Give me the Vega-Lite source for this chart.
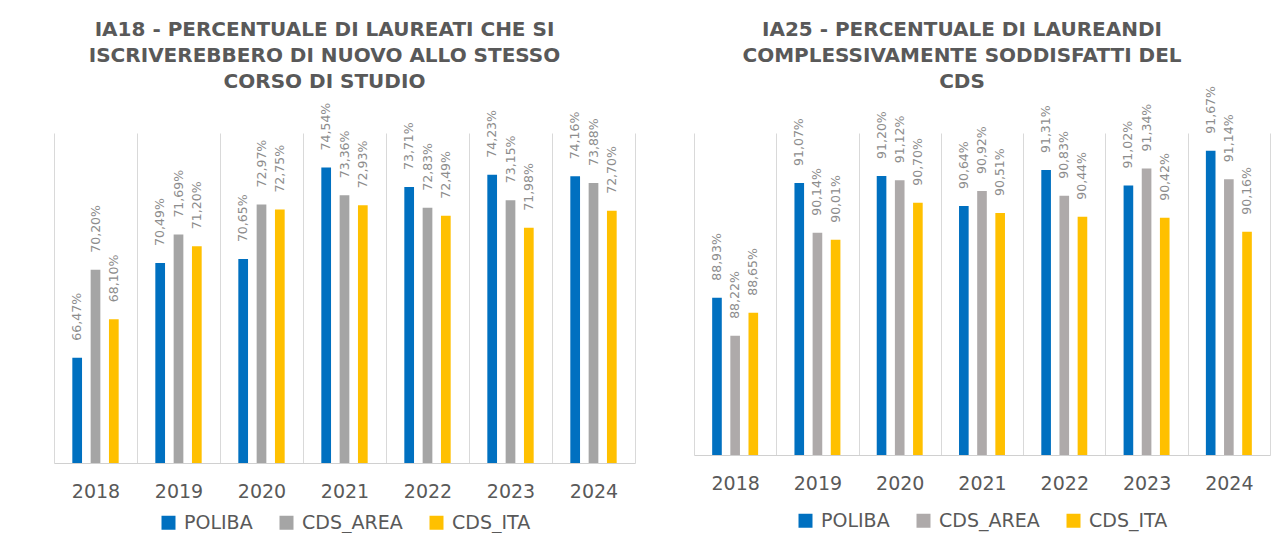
{
  "$schema": "https://vega.github.io/schema/vega-lite/v6.json",
  "background": "white",
  "padding": {"left": 54, "right": 4, "top": 19, "bottom": 0},
  "datasets": {
    "ia18": [
      {"anno": "2018", "serie": "POLIBA", "valore": 0.6647},
      {"anno": "2018", "serie": "CDS_AREA", "valore": 0.7020},
      {"anno": "2018", "serie": "CDS_ITA", "valore": 0.6810},
      {"anno": "2019", "serie": "POLIBA", "valore": 0.7049},
      {"anno": "2019", "serie": "CDS_AREA", "valore": 0.7169},
      {"anno": "2019", "serie": "CDS_ITA", "valore": 0.7120},
      {"anno": "2020", "serie": "POLIBA", "valore": 0.7065},
      {"anno": "2020", "serie": "CDS_AREA", "valore": 0.7297},
      {"anno": "2020", "serie": "CDS_ITA", "valore": 0.7275},
      {"anno": "2021", "serie": "POLIBA", "valore": 0.7454},
      {"anno": "2021", "serie": "CDS_AREA", "valore": 0.7336},
      {"anno": "2021", "serie": "CDS_ITA", "valore": 0.7293},
      {"anno": "2022", "serie": "POLIBA", "valore": 0.7371},
      {"anno": "2022", "serie": "CDS_AREA", "valore": 0.7283},
      {"anno": "2022", "serie": "CDS_ITA", "valore": 0.7249},
      {"anno": "2023", "serie": "POLIBA", "valore": 0.7423},
      {"anno": "2023", "serie": "CDS_AREA", "valore": 0.7315},
      {"anno": "2023", "serie": "CDS_ITA", "valore": 0.7198},
      {"anno": "2024", "serie": "POLIBA", "valore": 0.7416},
      {"anno": "2024", "serie": "CDS_AREA", "valore": 0.7388},
      {"anno": "2024", "serie": "CDS_ITA", "valore": 0.7270}
    ],
    "ia25": [
      {"anno": "2018", "serie": "POLIBA", "valore": 0.8893},
      {"anno": "2018", "serie": "CDS_AREA", "valore": 0.8822},
      {"anno": "2018", "serie": "CDS_ITA", "valore": 0.8865},
      {"anno": "2019", "serie": "POLIBA", "valore": 0.9107},
      {"anno": "2019", "serie": "CDS_AREA", "valore": 0.9014},
      {"anno": "2019", "serie": "CDS_ITA", "valore": 0.9001},
      {"anno": "2020", "serie": "POLIBA", "valore": 0.9120},
      {"anno": "2020", "serie": "CDS_AREA", "valore": 0.9112},
      {"anno": "2020", "serie": "CDS_ITA", "valore": 0.9070},
      {"anno": "2021", "serie": "POLIBA", "valore": 0.9064},
      {"anno": "2021", "serie": "CDS_AREA", "valore": 0.9092},
      {"anno": "2021", "serie": "CDS_ITA", "valore": 0.9051},
      {"anno": "2022", "serie": "POLIBA", "valore": 0.9131},
      {"anno": "2022", "serie": "CDS_AREA", "valore": 0.9083},
      {"anno": "2022", "serie": "CDS_ITA", "valore": 0.9044},
      {"anno": "2023", "serie": "POLIBA", "valore": 0.9102},
      {"anno": "2023", "serie": "CDS_AREA", "valore": 0.9134},
      {"anno": "2023", "serie": "CDS_ITA", "valore": 0.9042},
      {"anno": "2024", "serie": "POLIBA", "valore": 0.9167},
      {"anno": "2024", "serie": "CDS_AREA", "valore": 0.9114},
      {"anno": "2024", "serie": "CDS_ITA", "valore": 0.9016}
    ]
  },
  "config": {
    "locale": {"number": {"decimal": ",", "thousands": ".", "grouping": [3], "currency": ["€", ""]}},
    "view": {"stroke": null},
    "font": "DejaVu Sans",
    "concat": {"spacing": 59},
    "title": {"font": "DejaVu Sans", "fontSize": 20, "fontWeight": "bold", "color": "#595959", "lineHeight": 26, "anchor": "middle"},
    "axisX": {"labelFont": "DejaVu Sans", "labelFontSize": 19, "labelColor": "#595959", "labelAngle": 0, "labelPadding": 19, "ticks": false, "tickBand": "extent", "grid": true, "gridColor": "#d9d9d9", "gridWidth": 1, "domainColor": "#d0d0d0", "domainWidth": 1, "title": null},
    "axisY": {"labels": false, "ticks": false, "grid": false, "domain": false, "title": null},
    "legend": {"orient": "bottom", "direction": "horizontal", "title": null, "symbolType": "square", "symbolSize": 196, "symbolStrokeWidth": 0, "labelFont": "DejaVu Sans", "labelFontSize": 19, "labelColor": "#595959", "labelOffset": 6, "columnPadding": 24, "offset": 12, "layout": {"bottom": {"anchor": "middle"}}}
  },
  "resolve": {"scale": {"color": "independent", "y": "independent", "x": "independent", "xOffset": "independent"}, "legend": {"color": "independent"}},
  "hconcat": [
    {
      "data": {"name": "ia18"},
      "width": 581,
      "height": 330,
      "title": {"text": ["IA18 - PERCENTUALE DI LAUREATI CHE SI", "ISCRIVEREBBERO DI NUOVO ALLO STESSO", "CORSO DI STUDIO"], "offset": 11, "dx": -20},
      "encoding": {
        "x": {"field": "anno", "type": "nominal", "scale": {"paddingInner": 0, "paddingOuter": 0}},
        "xOffset": {"field": "serie", "type": "nominal", "sort": ["POLIBA", "CDS_AREA", "CDS_ITA"], "scale": {"paddingInner": 0.47, "paddingOuter": 1.18}},
        "y": {"field": "valore", "type": "quantitative", "scale": {"domain": [0.62, 0.76], "zero": false, "nice": false}}
      },
      "layer": [
        {
          "mark": {"type": "bar", "clip": true},
          "encoding": {
            "color": {"field": "serie", "type": "nominal", "sort": ["POLIBA", "CDS_AREA", "CDS_ITA"], "scale": {"domain": ["POLIBA", "CDS_AREA", "CDS_ITA"], "range": ["#0070C0", "#A5A5A5", "#FFC000"]}}
          }
        },
        {
          "mark": {"type": "text", "angle": 270, "align": "left", "baseline": "middle", "dx": 17, "fontSize": 12.5, "color": "#8c8c8c"},
          "encoding": {"text": {"field": "valore", "type": "quantitative", "format": ".2%"}}
        }
      ]
    },
    {
      "data": {"name": "ia25"},
      "width": 576,
      "height": 322,
      "title": {"text": ["IA25 - PERCENTUALE DI LAUREANDI", "COMPLESSIVAMENTE SODDISFATTI DEL", "CDS"], "offset": -6, "dx": -20},
      "encoding": {
        "x": {"field": "anno", "type": "nominal", "scale": {"paddingInner": 0, "paddingOuter": 0}},
        "xOffset": {"field": "serie", "type": "nominal", "sort": ["POLIBA", "CDS_AREA", "CDS_ITA"], "scale": {"paddingInner": 0.47, "paddingOuter": 1.18}},
        "y": {"field": "valore", "type": "quantitative", "scale": {"domain": [0.86, 0.92], "zero": false, "nice": false}}
      },
      "layer": [
        {
          "mark": {"type": "bar", "clip": true},
          "encoding": {
            "color": {"field": "serie", "type": "nominal", "sort": ["POLIBA", "CDS_AREA", "CDS_ITA"], "scale": {"domain": ["POLIBA", "CDS_AREA", "CDS_ITA"], "range": ["#0070C0", "#AEAAAA", "#FFC000"]}, "legend": {"offset": 18}}
          }
        },
        {
          "mark": {"type": "text", "angle": 270, "align": "left", "baseline": "middle", "dx": 17, "fontSize": 12.5, "color": "#8c8c8c"},
          "encoding": {"text": {"field": "valore", "type": "quantitative", "format": ".2%"}}
        }
      ]
    }
  ]
}
